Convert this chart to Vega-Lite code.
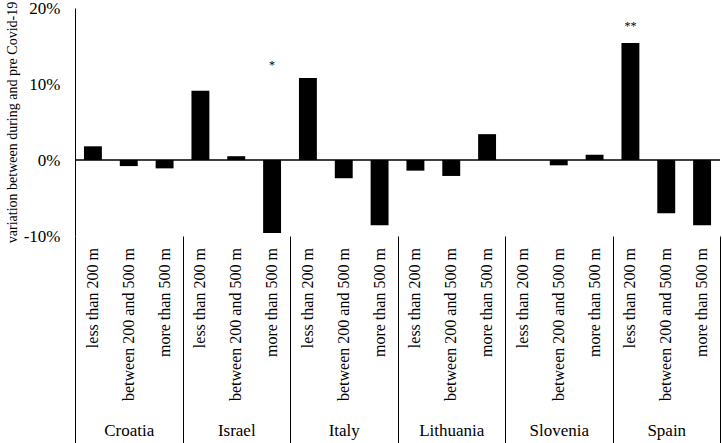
{
  "$schema": "https://vega.github.io/schema/vega-lite/v6.json",
  "width": 645,
  "height": 228,
  "autosize": {"type": "none"},
  "padding": {"left": 75, "top": 8, "right": 2, "bottom": 207},
  "background": "white",
  "config": {"view": {"stroke": null}, "font": "Liberation Serif, Times New Roman, serif"},
  "datasets": {
    "main": [
      {"country": "Croatia", "distance": "less than 200 m", "value": 0.018},
      {"country": "Croatia", "distance": "between 200 and 500 m", "value": -0.008},
      {"country": "Croatia", "distance": "more than 500 m", "value": -0.011},
      {"country": "Israel", "distance": "less than 200 m", "value": 0.091},
      {"country": "Israel", "distance": "between 200 and 500 m", "value": 0.005},
      {"country": "Israel", "distance": "more than 500 m", "value": -0.096},
      {"country": "Italy", "distance": "less than 200 m", "value": 0.108},
      {"country": "Italy", "distance": "between 200 and 500 m", "value": -0.024},
      {"country": "Italy", "distance": "more than 500 m", "value": -0.086},
      {"country": "Lithuania", "distance": "less than 200 m", "value": -0.014},
      {"country": "Lithuania", "distance": "between 200 and 500 m", "value": -0.021},
      {"country": "Lithuania", "distance": "more than 500 m", "value": 0.034},
      {"country": "Slovenia", "distance": "less than 200 m", "value": 0.0},
      {"country": "Slovenia", "distance": "between 200 and 500 m", "value": -0.007},
      {"country": "Slovenia", "distance": "more than 500 m", "value": 0.007},
      {"country": "Spain", "distance": "less than 200 m", "value": 0.154},
      {"country": "Spain", "distance": "between 200 and 500 m", "value": -0.070},
      {"country": "Spain", "distance": "more than 500 m", "value": -0.086}
    ],
    "ann": [
      {"country": "Israel", "distance": "more than 500 m", "label": "*", "pos": 0.125},
      {"country": "Spain", "distance": "less than 200 m", "label": "**", "pos": 0.176}
    ]
  },
  "layer": [
    {
      "data": {"name": "main"},
      "mark": {"type": "bar", "color": "black"},
      "encoding": {
        "x": {"field": "country", "type": "nominal", "sort": null,
          "scale": {"paddingInner": 0, "paddingOuter": 0},
          "axis": {"title": null, "domain": false, "ticks": true, "tickBand": "extent", "tickSize": 207, "tickColor": "black", "tickWidth": 1, "labelAngle": 0, "labelFontSize": 17, "labelColor": "black", "labelPadding": -21, "labelFont": "Liberation Serif, Times New Roman, serif"}},
        "xOffset": {"field": "distance", "type": "nominal", "sort": ["less than 200 m", "between 200 and 500 m", "more than 500 m"],
          "scale": {"paddingInner": 0.5, "paddingOuter": 0.25}},
        "y": {"field": "value", "type": "quantitative",
          "scale": {"domain": [-0.1, 0.2], "nice": false, "zero": false},
          "axis": {"title": "variation between during and pre Covid-19", "format": ".0%", "labelExpr": "replace(datum.label, '−', '-')", "values": [-0.1, -0.05, 0, 0.05, 0.1, 0.15, 0.2], "grid": false, "ticks": false, "domainColor": "black", "domainWidth": 1, "labelFontSize": 17, "labelColor": "black", "labelPadding": 15, "labelFont": "Liberation Serif, Times New Roman, serif", "titleFont": "Liberation Serif, Times New Roman, serif", "titleFontSize": 14, "titleFontWeight": "normal", "titleColor": "black", "titlePadding": 4}}
      }
    },
    {
      "data": {"values": [{}]},
      "mark": {"type": "rule", "color": "black", "strokeWidth": 1.5},
      "encoding": {"y": {"datum": 0}}
    },
    {
      "data": {"name": "main"},
      "mark": {"type": "text", "angle": 270, "align": "right", "baseline": "middle", "fontSize": 16, "font": "Liberation Serif, Times New Roman, serif", "color": "black"},
      "encoding": {
        "x": {"field": "country", "type": "nominal", "sort": null,
          "axis": {"title": null, "domain": false, "ticks": true, "tickBand": "extent", "tickSize": 207, "tickColor": "black", "tickWidth": 1, "labelAngle": 0, "labelFontSize": 17, "labelColor": "black", "labelPadding": -21, "labelFont": "Liberation Serif, Times New Roman, serif"}},
        "xOffset": {"field": "distance", "type": "nominal", "sort": ["less than 200 m", "between 200 and 500 m", "more than 500 m"]},
        "y": {"datum": -0.116},
        "text": {"field": "distance"}
      }
    },
    {
      "data": {"name": "ann"},
      "mark": {"type": "text", "align": "center", "baseline": "middle", "fontSize": 12, "font": "Liberation Serif, Times New Roman, serif", "color": "black"},
      "encoding": {
        "x": {"field": "country", "type": "nominal", "sort": null,
          "axis": {"title": null, "domain": false, "ticks": true, "tickBand": "extent", "tickSize": 207, "tickColor": "black", "tickWidth": 1, "labelAngle": 0, "labelFontSize": 17, "labelColor": "black", "labelPadding": -21, "labelFont": "Liberation Serif, Times New Roman, serif"}},
        "xOffset": {"field": "distance", "type": "nominal", "sort": ["less than 200 m", "between 200 and 500 m", "more than 500 m"]},
        "y": {"field": "pos", "type": "quantitative"},
        "text": {"field": "label"}
      }
    }
  ]
}
